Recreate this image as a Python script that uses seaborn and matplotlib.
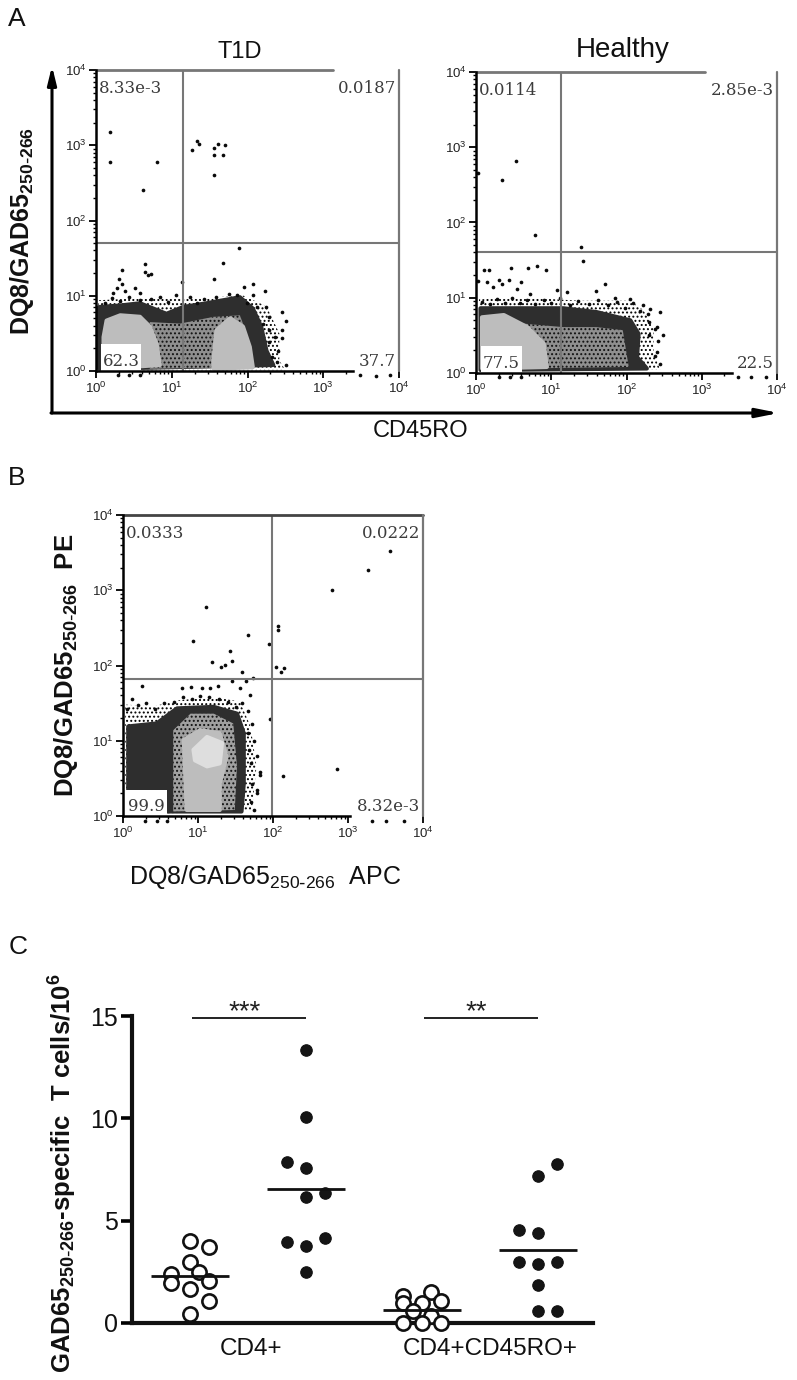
import numpy as np
import pandas as pd
import matplotlib
matplotlib.use("Agg")
import matplotlib.pyplot as plt
from matplotlib.ticker import FixedLocator, NullFormatter
import seaborn as sns

# ---------- data: flow panels (values are log10 decades) ----------
a1_x = [.18,.18,.81,.62,1.27,1.33,1.36,1.56,1.61,1.70,1.56,1.67,1.56,1.89,1.67,1.56,1.14,.65,.65,.73,.69,.34,.31,.34,.28,.23,.38,.51,.58,1.95,2.07,2.23,2.07,2.45,2.51,2.45,2.45,.29,.44,.58,3.48,3.70,3.88]
a1_y = [3.18,2.78,2.78,2.41,2.94,3.05,3.02,2.97,3.02,3.00,2.87,2.87,2.60,1.63,1.44,1.22,1.18,1.42,1.32,1.29,1.27,1.34,1.22,1.16,1.10,1.03,1.06,1.10,1.03,1.12,1.15,1.06,1.01,.78,.66,.54,.44,-.05,-.05,-.05,-.05,-.07,-.05]
a1_edge_x = [.12,.21,.32,.43,.58,.73,.84,.95,1.06,1.24,1.33,1.42,1.59,1.75,1.86,1.99,2.12,2.25,2.29,2.21,2.29,2.36,2.29,2.40,2.32,2.39,2.51]
a1_edge_y = [.90,.97,.93,.99,.95,.96,.99,.92,1.01,.99,.90,.96,.99,1.02,1.01,.90,.85,.85,.72,.63,.54,.45,.39,.27,.19,.12,.08]
a2_x = [.53,.34,.03,.78,1.40,1.42,1.71,1.60,.11,.17,.47,.69,.81,.93,.03,.15,.31,.44,.60,.23,.34,.54,.72,1.07,1.21,2.31,2.44,2.48,2.41,2.40,2.22,2.05,1.85,.30,.45,.60,3.48,3.65,3.85]
a2_y = [2.82,2.57,2.66,1.83,1.67,1.49,1.18,1.09,1.37,1.37,1.40,1.40,1.42,1.37,1.22,1.21,1.24,1.24,1.21,1.14,1.18,1.12,1.05,1.10,1.08,.85,.81,.50,.28,.61,.90,.99,1.00,-.05,-.05,-.05,-.05,-.05,-.05]
a2_edge_x = [.08,.18,.28,.38,.48,.58,.68,.78,.90,1.00,1.12,1.25,1.35,1.50,1.62,1.75,1.88,1.98,2.08,2.18,2.28,2.30,2.38,2.30,2.42,2.38,2.45]
a2_edge_y = [.95,.92,.98,.93,1.00,.93,.97,.92,.97,.93,1.00,.90,.96,.92,.97,.90,.95,.87,.93,.82,.78,.68,.58,.50,.42,.22,.12]
b_x = [3.56,3.27,2.78,1.11,.93,1.67,1.95,2.07,2.07,1.42,1.18,1.30,1.36,1.45,1.58,1.45,1.64,1.73,2.04,2.14,2.10,.25,1.96,2.85,2.13,1.83,1.79,.78,.90,1.05,1.16,1.27,1.56,1.69,.29,.45,.58,3.32,3.50,3.75]
b_y = [3.52,3.27,3.00,2.78,2.32,2.41,2.29,2.52,2.47,2.19,2.04,1.98,2.01,2.06,1.91,1.79,1.79,1.83,1.98,1.97,1.91,1.73,1.29,.62,.53,.59,.34,1.70,1.72,1.70,1.70,1.73,1.70,1.61,-.06,-.06,-.06,-.07,-.07,-.07]
b_edge_x = [.05,.12,.20,.30,.42,.55,.68,.80,.92,1.02,1.15,1.28,1.40,1.50,1.58,1.66,1.72,1.66,1.75,1.68,1.78,1.70,1.82,1.72,1.78,1.70,1.75]
b_edge_y = [1.42,1.55,1.48,1.50,1.42,1.50,1.52,1.58,1.55,1.60,1.58,1.55,1.52,1.45,1.50,1.40,1.22,1.10,1.00,.88,.80,.70,.55,.42,.30,.18,.08]

a1_outer_x = [.03,.41,.80,1.15,1.55,1.95,2.25,2.42,2.42,2.50,.03]
a1_outer_y = [.94,.96,.96,.98,.98,1.00,.86,.50,.14,.01,.01]
a1_dark_x = [.04,.32,.58,.93,1.15,1.46,1.90,2.07,2.18,2.25,2.34,.04]
a1_dark_y = [.85,.87,.90,.76,.85,.90,.98,.83,.59,.27,.08,.03]
a1_mid_x = [.71,1.11,1.55,1.90,2.02,2.07,.71]
a1_mid_y = [.65,.63,.72,.74,.41,.05,.03]
a1_light_x = [[.10,.14,.32,.58,.71,.80,.84,.10],[1.55,1.59,1.77,1.94,2.03,2.07,1.55]]
a1_light_y = [[.45,.67,.74,.72,.59,.36,.08,.03],[.14,.54,.70,.59,.32,.05,.03]]

a2_outer_x = [.04,.72,1.38,2.05,2.22,2.36,2.36,2.45,.04]
a2_outer_y = [.98,1.00,.96,.96,.84,.61,.26,.04,.04]
a2_dark_x = [.06,.72,1.16,1.60,2.05,2.16,2.14,2.27,.06]
a2_dark_y = [.86,.86,.86,.81,.70,.52,.21,.06,.04]
a2_mid_x = [.59,1.16,1.60,1.95,2.03,.59]
a2_mid_y = [.66,.61,.61,.57,.08,.06]
a2_light_x = [[.08,.37,.68,.90,.94,.08]]
a2_light_y = [[.74,.77,.61,.39,.08,.06]]

b_outer_x = [.03,.41,.76,1.21,1.56,1.70,1.78,1.72,.03]
b_outer_y = [1.48,1.46,1.54,1.58,1.52,1.19,.66,.08,.01]
b_dark_x = [.07,.45,.72,1.21,1.52,1.61,1.61,1.58,.07]
b_dark_y = [1.19,1.23,1.43,1.45,1.36,1.10,.43,.06,.06]
b_mid_x = [.67,.90,1.21,1.47,1.52,1.49,.67]
b_mid_y = [1.14,1.36,1.36,1.23,.66,.08,.06]
b_light_x = [[.81,1.03,1.29,1.38,1.29,1.29,.85]]
b_light_y = [[1.01,1.14,1.10,.79,.43,.08,.08]]
b_core_x = [.94,1.12,1.32,1.29,1.12,.96]
b_core_y = [.88,1.05,.97,.70,.66,.74]

a1_gates = (14.2, 49.8)
a2_gates = (13.4, 40.0)
b_gates = (96.0, 65.5)
a1_labels = ["8.33e-3", "0.0187", "62.3", "37.7"]
a2_labels = ["0.0114", "2.85e-3", "77.5", "22.5"]
b_labels = ["0.0333", "0.0222", "99.9", "8.32e-3"]
tick_labels = [r"$10^{0}$", r"$10^{1}$", r"$10^{2}$", r"$10^{3}$", r"$10^{4}$"]

# ---------- data: panel C ----------
c_groups = ["CD4+", "CD4+CD45RO+"]
c_ticks = [0, 5, 10, 15]
open1_val = [3.99,3.70,2.98,2.39,2.49,1.95,2.07,1.66,1.06,.46]
open1_off = [0,.16,0,-.16,.08,-.16,.16,0,.16,0]
fill1_val = [13.36,10.07,7.87,7.56,6.34,6.15,4.16,3.97,3.77,2.47]
fill1_off = [0,0,-.16,0,.16,0,.16,-.16,0,0]
open2_val = [1.30,1.50,1.06,.98,1.00,.57,.33,0,0,0]
open2_off = [-.16,.08,.16,0,-.16,-.08,.08,-.16,0,.16]
fill2_val = [7.78,7.16,4.55,4.38,2.98,2.88,2.98,1.87,.57,.57]
fill2_off = [.16,0,-.16,0,-.16,0,.16,0,0,.16]
c_means = [2.30, 6.57, 0.65, 3.58]

# ---------- style ----------
sns.set_theme(style="white")
plt.rcParams["font.family"] = ["Liberation Sans", "DejaVu Sans"]
plt.rcParams["mathtext.default"] = "regular"
plt.rcParams["hatch.linewidth"] = 0.9

W, H = 797, 1380
fig = plt.figure(figsize=(W / 100, H / 100), dpi=100, facecolor="white")

def rect(l, t, r, b):
    return [l / W, 1 - b / H, (r - l) / W, (b - t) / H]

GATE = "#777777"

def flow(box, pts, edge, outer, dark, mid, light, gates, labels, top_end, bottom_end, lab_box, core=None, mid_face="#8f8f8f", top_col=GATE):
    ax = fig.add_axes(rect(*box))
    ax.set_xscale("log"); ax.set_yscale("log")
    ax.set_xlim(1, 1e4); ax.set_ylim(1, 1e4)
    ax.set_facecolor("none")
    P = lambda v: 10.0 ** np.asarray(v)
    rnd = dict(joinstyle="round", linewidth=3)
    ax.fill(P(outer[0]), P(outer[1]), facecolor="white", edgecolor="#000000", hatch="....", linewidth=0, zorder=1)
    ax.fill(P(dark[0]), P(dark[1]), facecolor="#2e2e2e", edgecolor="#2e2e2e", zorder=2, **rnd)
    ax.fill(P(mid[0]), P(mid[1]), facecolor=mid_face, edgecolor="#111111", hatch="....", linewidth=0, zorder=3)
    for lx, ly in zip(*light):
        ax.fill(P(lx), P(ly), facecolor="#bdbdbd", edgecolor="#bdbdbd", zorder=4, **rnd)
    if core is not None:
        ax.fill(P(core[0]), P(core[1]), facecolor="#dedede", edgecolor="#dedede", zorder=5, **rnd)
    df = pd.DataFrame({"x": P(list(pts[0]) + list(edge[0])), "y": P(list(pts[1]) + list(edge[1]))})
    sns.scatterplot(data=df, x="x", y="y", ax=ax, color="#0a0a0a", s=7, linewidth=0, clip_on=False, zorder=6, legend=False)
    ax.set_xlabel(""); ax.set_ylabel("")
    ax.axvline(gates[0], color=GATE, lw=1.5, zorder=7)
    ax.axhline(gates[1], color=GATE, lw=1.5, zorder=7)
    ax.fill([10**lab_box[0], 10**lab_box[1], 10**lab_box[1], 10**lab_box[0]],
            [1, 1, 10**lab_box[2], 10**lab_box[2]], facecolor="white", linewidth=0, zorder=8)
    for s in ("top", "right"):
        ax.spines[s].set_visible(False)
    for s in ("left", "bottom"):
        ax.spines[s].set_color("black"); ax.spines[s].set_linewidth(1.8); ax.spines[s].set_zorder(9)
    ax.spines["bottom"].set_bounds(1, 10 ** bottom_end)
    ax.plot([1, 10 ** top_end], [1e4, 1e4], color=top_col, lw=2, clip_on=False, zorder=9)
    ax.plot([1e4, 1e4], [1, 1e4], color=GATE, lw=1.6, clip_on=False, zorder=9)
    maj = [1, 10, 100, 1000, 10000]
    ax.xaxis.set_major_locator(FixedLocator(maj)); ax.yaxis.set_major_locator(FixedLocator(maj))
    ax.set_xticklabels(tick_labels); ax.set_yticklabels(tick_labels)
    minor = [m * 10.0 ** d for d in range(4) for m in range(2, 10)]
    ax.xaxis.set_minor_locator(FixedLocator([v for v in minor if v < 10 ** bottom_end]))
    ax.yaxis.set_minor_locator(FixedLocator(minor))
    ax.xaxis.set_minor_formatter(NullFormatter()); ax.yaxis.set_minor_formatter(NullFormatter())
    ax.tick_params(which="major", bottom=True, left=True, length=5, width=1.3, color="black", labelsize=9.5, pad=2, labelcolor="#222222")
    ax.tick_params(which="minor", bottom=True, left=True, length=2.5, width=1.0, color="black")
    kw = dict(family="DejaVu Serif", fontsize=12, color="#3c3c3c", zorder=10, va="center")
    ax.text(10**.04, 10**3.76, labels[0], ha="left", **kw)
    ax.text(10**3.96, 10**3.76, labels[1], ha="right", **kw)
    ax.text(10 ** ((lab_box[0] + lab_box[1]) / 2), 10 ** .13, labels[2], ha="center", **kw)
    ax.text(10**3.96, 10**.13, labels[3], ha="right", **kw)
    return ax

flow((96, 70, 399, 371), (a1_x, a1_y), (a1_edge_x, a1_edge_y), (a1_outer_x, a1_outer_y), (a1_dark_x, a1_dark_y), (a1_mid_x, a1_mid_y),
     (a1_light_x, a1_light_y), a1_gates, a1_labels, 3.13, 3.39, (.07, .60, .355))
flow((476, 72, 777, 373), (a2_x, a2_y), (a2_edge_x, a2_edge_y), (a2_outer_x, a2_outer_y), (a2_dark_x, a2_dark_y), (a2_mid_x, a2_mid_y),
     (a2_light_x, a2_light_y), a2_gates, a2_labels, 3.04, 3.40, (.07, .61, .36))
flow((123, 515, 423, 816), (b_x, b_y), (b_edge_x, b_edge_y), (b_outer_x, b_outer_y), (b_dark_x, b_dark_y), (b_mid_x, b_mid_y),
     (b_light_x, b_light_y), b_gates, b_labels, 4.0, 3.03, (.03, .59, .345), core=(b_core_x, b_core_y), mid_face="#a0a0a0", top_col="#444444")

# ---------- panel C ----------
axc = fig.add_axes(rect(132, 1016, 593, 1323))
axc.set_xlim(-0.5, 3.474); axc.set_ylim(0, 15)
axc.set_facecolor("none")
series = [(0, open1_val, open1_off, "white"), (1, fill1_val, fill1_off, "#151515"),
          (2, open2_val, open2_off, "white"), (3, fill2_val, fill2_off, "#151515")]
for pos, vals, offs, face in series:
    df = pd.DataFrame({"x": np.array(offs) + pos, "y": vals})
    is_open = face == "white"
    sns.scatterplot(data=df, x="x", y="y", ax=axc, color=face, edgecolor="#111111",
                    s=105 if is_open else 68, linewidth=1.9 if is_open else 0.8,
                    clip_on=False, zorder=4, legend=False)
    axc.hlines(c_means[pos], pos - .34, pos + .34, color="#111111", lw=2, zorder=5)
for start, stop in ((0.02, 1.0), (2.02, 3.0)):
    axc.hlines(14.9, start, stop, color="#111111", lw=1.3, clip_on=False)
axc.text(.47, 15.2, "***", ha="center", va="center", fontsize=20, clip_on=False, color="#222222")
axc.text(2.47, 15.2, "**", ha="center", va="center", fontsize=20, clip_on=False, color="#222222")
axc.set_xlabel(""); axc.set_ylabel("")
axc.set_xticks([0.53, 2.59]); axc.set_xticklabels(c_groups, fontsize=17.5, color="#111111")
axc.set_yticks(c_ticks); axc.set_yticklabels([str(t) for t in c_ticks], fontsize=18, color="#111111")
axc.tick_params(axis="y", left=True, length=8, width=2.6, color="black", pad=2)
axc.tick_params(axis="x", bottom=False, pad=5)
sns.despine(ax=axc)
for s in ("left", "bottom"):
    axc.spines[s].set_linewidth(3); axc.spines[s].set_color("#111111")

# ---------- overlay: panel letters, titles, axis names, arrows ----------
ov = fig.add_axes([0, 0, 1, 1], facecolor="none")
ov.set_xlim(0, W); ov.set_ylim(H, 0); ov.axis("off")
T = r"DQ8/GAD65$_{250\text{-}266}$"
for s, x, y in (("A", 17, 19), ("B", 17, 478), ("C", 18, 947)):
    ov.text(x, y, s, fontsize=19, ha="center", va="center", color="#111111")
ov.text(240, 52, "T1D", fontsize=17, ha="center", va="center", color="#111111")
ov.text(623, 50, "Healthy", fontsize=20, ha="center", va="center", color="#111111")
ov.text(22, 231, T, fontsize=18, weight="bold", rotation=90, ha="center", va="center", color="#111111")
ov.text(421, 431, "CD45RO", fontsize=17, ha="center", va="center", color="#111111")
ov.text(66, 665, T + "  PE", fontsize=18.5, weight="bold", rotation=90, ha="center", va="center", color="#111111")
ov.text(265, 877, T + "  APC", fontsize=18, ha="center", va="center", color="#111111")
ov.text(63, 1173, r"GAD65$_{250\text{-}266}$-specific  T cells/10$^{6}$", fontsize=18.5, weight="bold",
        rotation=90, ha="center", va="center", color="#111111")
ov.annotate("", xy=(52, 66), xytext=(52, 413), arrowprops=dict(arrowstyle="-|>,head_width=.22,head_length=.9", lw=2.2, color="black", shrinkA=0, shrinkB=0))
ov.annotate("", xy=(779, 413), xytext=(51, 413), arrowprops=dict(arrowstyle="-|>,head_width=.22,head_length=1.1", lw=2.2, color="black", shrinkA=0, shrinkB=0))

fig.savefig("out.png", dpi=100)
